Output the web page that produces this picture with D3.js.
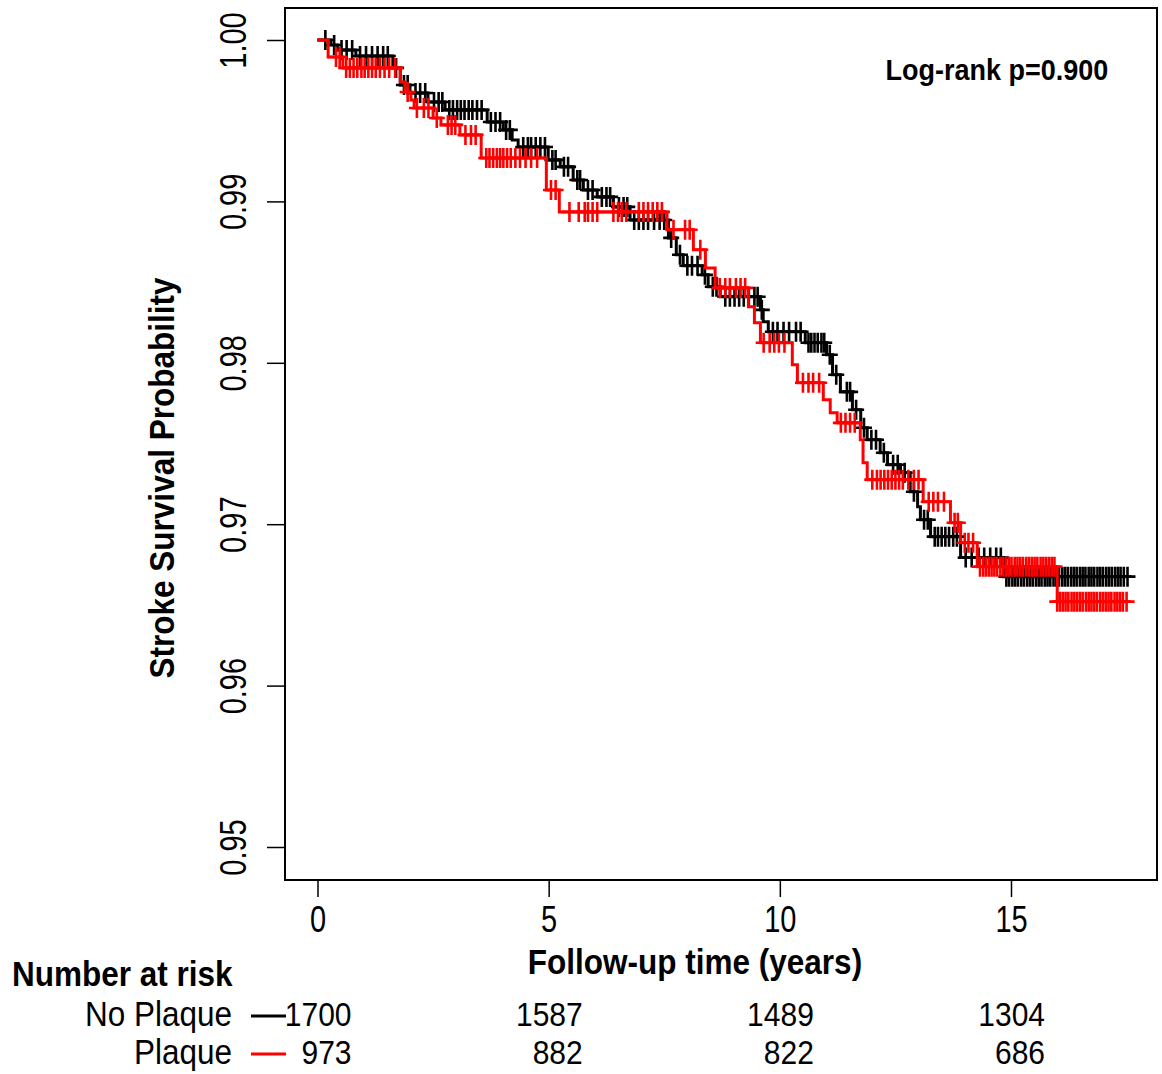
<!DOCTYPE html>
<html>
<head>
<meta charset="utf-8">
<script src="https://cdn.jsdelivr.net/npm/d3@7"></script>
<style>
  html, body { margin: 0; padding: 0; background: #fff; }
  svg { display: block; font-family: "Liberation Sans", Arial, sans-serif; }
</style>
</head>
<body>
<svg id="chart" width="1162" height="1074"></svg>
<script>
// ---------------- data ----------------
const categories = ["No Plaque", "Plaque"];
const seriesColors = ["#000000", "#ff0000"];

// Kaplan-Meier step drops (time in years, survival after the drop)
const noPlaqueEventTimes = [0.29, 0.44, 0.83, 1.63, 1.79, 2.00, 2.39, 2.76, 3.67, 4.02, 4.21, 4.34, 4.99, 5.25, 5.53, 5.75, 6.05, 6.40, 6.76, 7.59, 7.76, 7.91, 8.32, 8.45, 8.71, 9.58, 9.64, 9.75, 10.55, 11.01, 11.14, 11.31, 11.57, 11.75, 11.89, 12.17, 12.33, 12.61, 12.82, 12.98, 13.04, 13.26, 13.91, 14.84];
const noPlaqueSurvival = [0.99969, 0.99938, 0.99901, 0.99827, 0.99721, 0.99672, 0.99616, 0.99567, 0.99492, 0.99443, 0.99381, 0.99337, 0.99257, 0.99214, 0.99133, 0.99071, 0.99028, 0.98966, 0.98885, 0.98774, 0.98669, 0.98601, 0.98545, 0.98471, 0.98409, 0.98328, 0.98254, 0.98192, 0.98124, 0.98050, 0.97926, 0.97820, 0.97709, 0.97598, 0.97523, 0.97443, 0.97368, 0.97319, 0.97201, 0.97108, 0.97028, 0.96923, 0.96793, 0.96675];
const noPlaqueEnd = 17.52;

const plaqueEventTimes = [0.23, 0.55, 1.79, 1.89, 2.02, 2.09, 2.50, 2.67, 3.08, 3.54, 4.95, 5.23, 7.56, 8.13, 8.39, 8.60, 9.32, 9.45, 9.58, 10.27, 10.38, 10.94, 11.09, 11.24, 11.74, 11.80, 11.89, 13.10, 13.69, 13.91, 14.27, 16.00];
const plaqueSurvival = [0.99895, 0.99827, 0.99740, 0.99678, 0.99628, 0.99579, 0.99517, 0.99474, 0.99412, 0.99269, 0.99071, 0.98935, 0.98824, 0.98700, 0.98588, 0.98464, 0.98347, 0.98248, 0.98124, 0.97988, 0.97876, 0.97771, 0.97690, 0.97628, 0.97523, 0.97381, 0.97276, 0.97139, 0.97009, 0.96885, 0.96737, 0.96520];
const plaqueEnd = 17.52;

// censoring times (tick marks)
const noPlaqueCensor = [0.17, 0.36, 0.52, 0.63, 0.75, 0.92, 1.05, 1.18, 1.30, 1.42, 1.52, 1.70, 1.87, 1.95, 2.12, 2.22, 2.33, 2.52, 2.62, 2.70, 2.85, 2.93, 3.02, 3.10, 3.18, 3.27, 3.35, 3.45, 3.55, 3.75, 3.85, 3.95, 4.08, 4.16, 4.45, 4.55, 4.62, 4.72, 4.82, 4.92, 5.08, 5.15, 5.33, 5.42, 5.62, 5.68, 5.85, 5.95, 6.15, 6.25, 6.33, 6.52, 6.62, 6.70, 6.85, 6.95, 7.05, 7.15, 7.28, 7.40, 7.50, 7.65, 7.84, 8.00, 8.10, 8.22, 8.38, 8.55, 8.63, 8.82, 8.92, 9.02, 9.12, 9.22, 9.33, 9.45, 9.52, 9.61, 9.85, 9.95, 10.08, 10.20, 10.35, 10.45, 10.62, 10.68, 10.75, 10.82, 10.90, 10.96, 11.08, 11.22, 11.45, 11.52, 11.65, 11.82, 11.98, 12.08, 12.25, 12.45, 12.55, 12.70, 12.90, 13.12, 13.20, 13.35, 13.42, 13.50, 13.58, 13.66, 13.75, 13.83, 14.02, 14.15, 14.30, 14.42, 14.55, 14.68, 14.78, 14.90, 14.96, 15.03, 15.09, 15.15, 15.22, 15.28, 15.35, 15.41, 15.47, 15.54, 15.60, 15.66, 15.73, 15.79, 15.85, 15.92, 15.98, 16.04, 16.11, 16.17, 16.23, 16.30, 16.36, 16.42, 16.49, 16.55, 16.61, 16.68, 16.74, 16.80, 16.87, 16.93, 16.99, 17.06, 17.12, 17.18, 17.25, 17.31, 17.37, 17.44, 17.52];
const plaqueCensor = [0.40, 0.48, 0.62, 0.70, 0.78, 0.86, 0.95, 1.02, 1.10, 1.18, 1.26, 1.35, 1.45, 1.55, 1.68, 1.95, 2.15, 2.30, 2.40, 2.58, 2.82, 2.90, 2.98, 3.20, 3.32, 3.42, 3.65, 3.72, 3.80, 3.88, 3.95, 4.02, 4.10, 4.18, 4.28, 4.38, 4.50, 4.62, 4.75, 5.05, 5.15, 5.45, 5.65, 5.78, 5.85, 5.95, 6.05, 6.40, 6.50, 6.58, 6.68, 6.95, 7.05, 7.15, 7.25, 7.35, 7.45, 7.70, 7.95, 8.05, 8.28, 8.70, 8.82, 8.92, 9.05, 9.15, 9.25, 9.65, 9.78, 9.88, 9.98, 10.10, 10.50, 10.62, 10.72, 10.85, 11.32, 11.42, 11.52, 11.62, 12.00, 12.10, 12.18, 12.26, 12.34, 12.42, 12.50, 12.58, 12.66, 12.78, 12.90, 13.00, 13.22, 13.32, 13.42, 13.55, 13.78, 13.85, 14.00, 14.08, 14.18, 14.33, 14.40, 14.46, 14.52, 14.58, 14.64, 14.70, 14.77, 14.83, 14.89, 14.95, 15.01, 15.08, 15.14, 15.20, 15.26, 15.33, 15.39, 15.45, 15.51, 15.57, 15.64, 15.70, 15.76, 15.82, 15.88, 15.94, 16.00, 16.06, 16.12, 16.18, 16.24, 16.31, 16.37, 16.43, 16.49, 16.55, 16.62, 16.68, 16.74, 16.80, 16.86, 16.93, 16.99, 17.05, 17.11, 17.17, 17.24, 17.30, 17.36, 17.42, 17.50];

const xTicks = [0, 5, 10, 15];
const yTicks = [0.95, 0.96, 0.97, 0.98, 0.99, 1.00];
const riskTimes = [0, 5, 10, 15];
const noPlaqueRisk = [1700, 1587, 1489, 1304];
const plaqueRisk = [973, 882, 822, 686];
const pValueLabel = "Log-rank p=0.900";

// ---------------- chart ----------------
const svg = d3.select("#chart");
const x = d3.scaleLinear().domain([0, 15]).range([317.5, 1011]);
const y = d3.scaleLinear().domain([0.95, 1.0]).range([847, 40]);
const box = { left: 285, top: 8, right: 1157, bottom: 880 };
const tickStretch = 1.25, textStretch = 1.1;

// y axis
const yAxis = svg.append("g").attr("transform", `translate(${box.left},0)`)
  .call(d3.axisLeft(y).tickValues(yTicks).tickSize(18).tickFormat(d3.format(".2f")));
yAxis.select(".domain").remove();
yAxis.selectAll(".tick line").attr("stroke", "#000").attr("stroke-width", 1.5);
yAxis.selectAll(".tick text")
  .attr("transform", `translate(-39,0) rotate(-90) scale(1,${tickStretch})`)
  .attr("x", 0).attr("y", 0).attr("dy", null)
  .attr("text-anchor", "middle")
  .attr("font-size", 29).attr("font-family", "Liberation Sans, Arial, sans-serif")
  .attr("fill", "#000");

// x axis
const xAxis = svg.append("g").attr("transform", `translate(0,${box.bottom})`)
  .call(d3.axisBottom(x).tickValues(xTicks).tickSize(17).tickFormat(d3.format("d")));
xAxis.select(".domain").remove();
xAxis.selectAll(".tick line").attr("stroke", "#000").attr("stroke-width", 1.5);
xAxis.selectAll(".tick text")
  .attr("transform", `translate(0,52) scale(1,${tickStretch})`)
  .attr("y", 0).attr("dy", null)
  .attr("font-size", 29).attr("font-family", "Liberation Sans, Arial, sans-serif")
  .attr("fill", "#000");

// frame
svg.append("rect")
  .attr("x", box.left).attr("y", box.top)
  .attr("width", box.right - box.left).attr("height", box.bottom - box.top)
  .attr("fill", "none").attr("stroke", "#000").attr("stroke-width", 2);

// curves
function survAt(times, surv, t) {
  const i = d3.bisectRight(times, t);
  return i === 0 ? 1 : surv[i - 1];
}
const series = [
  { times: noPlaqueEventTimes, surv: noPlaqueSurvival, end: noPlaqueEnd, censor: noPlaqueCensor, color: seriesColors[0] },
  { times: plaqueEventTimes, surv: plaqueSurvival, end: plaqueEnd, censor: plaqueCensor, color: seriesColors[1] }
];
const line = d3.line().x(d => x(d[0])).y(d => y(d[1])).curve(d3.curveStepAfter);
const markW = 8, markH = 10;
series.forEach(s => {
  const pts = [[0, 1]].concat(s.times.map((t, i) => [t, s.surv[i]]));
  pts.push([s.end, s.surv[s.surv.length - 1]]);
  const g = svg.append("g");
  g.append("path").attr("d", line(pts))
    .attr("fill", "none").attr("stroke", s.color).attr("stroke-width", 3);
  const marks = s.censor.map(t => [t, survAt(s.times, s.surv, t)]);
  g.selectAll("path.cens").data(marks).enter().append("path")
    .attr("class", "cens")
    .attr("d", d => {
      const cx = x(d[0]), cy = y(d[1]);
      return `M${cx - markW},${cy}H${cx + markW}M${cx},${cy - markH}V${cy + markH}`;
    })
    .attr("fill", "none").attr("stroke", s.color).attr("stroke-width", 2.6);
});

function stretchedText(parent, tx, ty, k, extra) {
  const t = parent.append("text").attr("transform", `translate(${tx},${ty}) ${extra || ""} scale(1,${k})`);
  return t;
}

// p-value
stretchedText(svg, 997, 80, textStretch).attr("text-anchor", "middle")
  .attr("font-size", 27).attr("font-weight", "bold").text(pValueLabel);

// axis titles
stretchedText(svg, 695, 974, textStretch).attr("text-anchor", "middle")
  .attr("font-size", 31.5).attr("font-weight", "bold").text("Follow-up time (years)");
stretchedText(svg, 174, 478, textStretch, "rotate(-90)")
  .attr("text-anchor", "middle")
  .attr("font-size", 31.5).attr("font-weight", "bold").text("Stroke Survival Probability");

// number at risk
stretchedText(svg, 12, 986, textStretch)
  .attr("font-size", 31.5).attr("font-weight", "bold").text("Number at risk");
const riskRows = [
  { label: categories[0], values: noPlaqueRisk, color: seriesColors[0], base: 1026 },
  { label: categories[1], values: plaqueRisk, color: seriesColors[1], base: 1064 }
];
riskRows.forEach(r => {
  stretchedText(svg, 232, r.base, textStretch).attr("text-anchor", "end")
    .attr("font-size", 31.5).text(r.label);
  svg.append("line").attr("x1", 251).attr("x2", 286)
    .attr("y1", r.base - 10).attr("y2", r.base - 10)
    .attr("stroke", r.color).attr("stroke-width", 3);
  r.values.forEach((d, i) => {
    stretchedText(svg, x(riskTimes[i]) + 34, r.base, textStretch)
      .attr("text-anchor", "end").attr("font-size", 30).text(d);
  });
});
</script>
</body>
</html>
